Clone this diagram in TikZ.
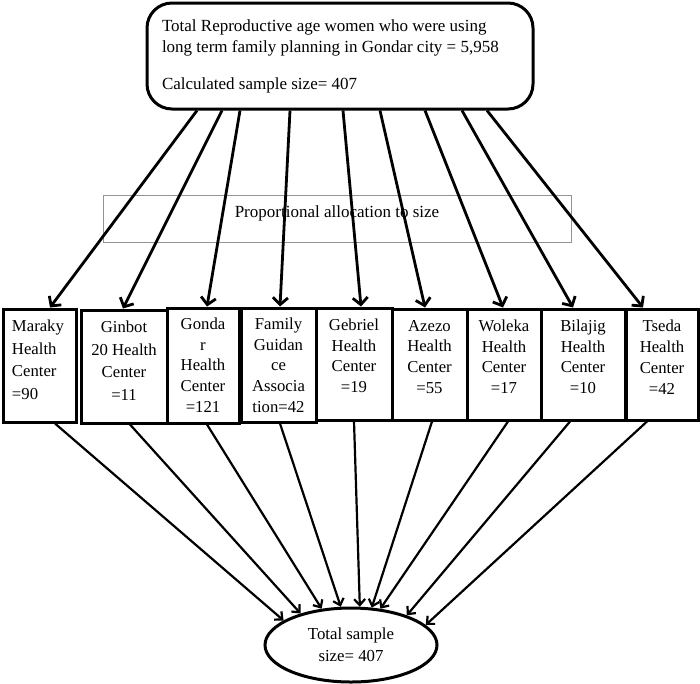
\documentclass[tikz,border=0pt]{standalone}
\usepackage{fontspec}
\setmainfont{Liberation Serif}
\usetikzlibrary{arrows.meta,shapes.geometric}
\begin{document}
\begin{tikzpicture}[x=1pt,y=-1pt,
  topbox/.style={draw, line width=3pt, rounded corners=25pt, minimum width=386pt, minimum height=106pt, inner sep=0pt},
  grayb/.style={draw=black!42, line width=1pt, minimum width=468pt, minimum height=47pt, inner sep=0pt, text height=12pt, text depth=14pt, font=\fontsize{17}{21}\selectfont},
  hc/.style={draw, line width=3pt, inner sep=0pt},
  ell/.style={draw, ellipse, line width=3pt, minimum width=172pt, minimum height=74pt, inner sep=0pt},
  downarr/.style={line width=2.8pt, -{Straight Barb[length=7pt,width=15pt]}},
  sumarr/.style={line width=2.2pt, -{Straight Barb[length=6pt,width=11pt]}},
]
\useasboundingbox (0,0) rectangle (700,683);

% top box
\node[topbox] (top) at (340,56) {\parbox{356pt}{\fontsize{17}{21}\selectfont
  Total Reproductive age women who were using\\
  long term family planning in Gondar city = 5,958\\[16pt]
  Calculated sample size= 407}};

% allocation box
\node[grayb] (alloc) at (337,218.5) {Proportional allocation to size};

% health centres
\node[hc, minimum width=73pt, minimum height=113pt] (maraky) at (39.5,365.5)
  {\parbox[c][91pt][t]{55pt}{\raggedright\fontsize{16.7}{22.7}\selectfont Maraky\\ Health\\ Center\\ =90}};
\node[hc, minimum width=86pt, minimum height=113pt] (ginbot) at (124,366.5)
  {\parbox[c][91pt][t]{80pt}{\centering\fontsize{16.7}{22.7}\selectfont Ginbot\\ 20 Health\\ Center\\ =11}};
\node[hc, minimum width=72pt, minimum height=115pt] (gondar) at (203,365.5)
  {\parbox[c][95pt][t]{66pt}{\centering\fontsize{16.7}{20.7}\selectfont Gonda\\ r\\ Health\\ Center\\ =121}};
\node[hc, minimum width=75pt, minimum height=114pt] (family) at (278.5,365)
  {\parbox[c][94pt][t]{69pt}{\centering\fontsize{16.7}{20.7}\selectfont Family\\ Guidan\\ ce\\ Associa\\ tion=42}};
\node[hc, minimum width=76pt, minimum height=112pt] (gebriel) at (354,364)
  {\parbox[c][90pt][t]{70pt}{\centering\fontsize{16.7}{20.7}\selectfont Gebriel\\ Health\\ Center\\ =19}};
\node[hc, minimum width=75pt, minimum height=111pt] (azezo) at (429.5,364.5)
  {\parbox[c][89pt][t]{69pt}{\centering\fontsize{16.7}{20.7}\selectfont Azezo\\ Health\\ Center\\ =55}};
\node[hc, minimum width=74pt, minimum height=111pt] (woleka) at (504,364.5)
  {\parbox[c][89pt][t]{68pt}{\centering\fontsize{16.7}{20.7}\selectfont Woleka\\ Health\\ Center\\ =17}};
\node[hc, minimum width=84pt, minimum height=111pt] (bilajig) at (583,364.5)
  {\parbox[c][89pt][t]{78pt}{\centering\fontsize{16.7}{20.7}\selectfont Bilajig\\ Health\\ Center\\ =10}};
\node[hc, minimum width=72pt, minimum height=111pt] (tseda) at (662,364.5)
  {\parbox[c][89pt][t]{66pt}{\centering\fontsize{16.7}{21}\selectfont Tseda\\ Health\\ Center\\ =42}};

% total ellipse
\node[ell] (total) at (351,645)
  {\parbox{110pt}{\centering\fontsize{16.8}{22}\selectfont Total sample\\ size= 407}};

% arrows from top box
\draw[downarr] ([xshift=-143pt]top.south) -- ([xshift=10.5pt]maraky.north);
\draw[downarr] ([xshift=-118pt]top.south) -- ([xshift=-1pt]ginbot.north);
\draw[downarr] ([xshift=-100pt]top.south) -- ([xshift=4pt]gondar.north);
\draw[downarr] ([xshift=-50pt]top.south) -- ([xshift=1.5pt]family.north);
\draw[downarr] ([xshift=3pt]top.south) -- ([xshift=7pt]gebriel.north);
\draw[downarr] ([xshift=40pt]top.south) -- ([xshift=-4.5pt]azezo.north);
\draw[downarr] ([xshift=85pt]top.south) -- ([xshift=-1pt]woleka.north);
\draw[downarr] ([xshift=122pt]top.south) -- ([xshift=-10pt]bilajig.north);
\draw[downarr] ([xshift=147pt]top.south) -- ([xshift=-19pt]tseda.north);

% arrows to total
\draw[sumarr] ([xshift=15.5pt]maraky.south) -- (total.160.8);
\draw[sumarr] ([xshift=6pt]ginbot.south) -- (total.148.5);
\draw[sumarr] ([xshift=4pt]gondar.south) -- (total.129.5);
\draw[sumarr] ([xshift=1.5pt]family.south) -- (total.105.4);
\draw[sumarr] ([xshift=0pt]gebriel.south) -- (total.77.9);
\draw[sumarr] ([xshift=2.5pt]azezo.south) -- (total.61.3);
\draw[sumarr] ([xshift=4pt]woleka.south) -- (total.51);
\draw[sumarr] ([xshift=-13pt]bilajig.south) -- (total.28);
\draw[sumarr] ([xshift=-15pt]tseda.south) -- (total.15);
\end{tikzpicture}
\end{document}
